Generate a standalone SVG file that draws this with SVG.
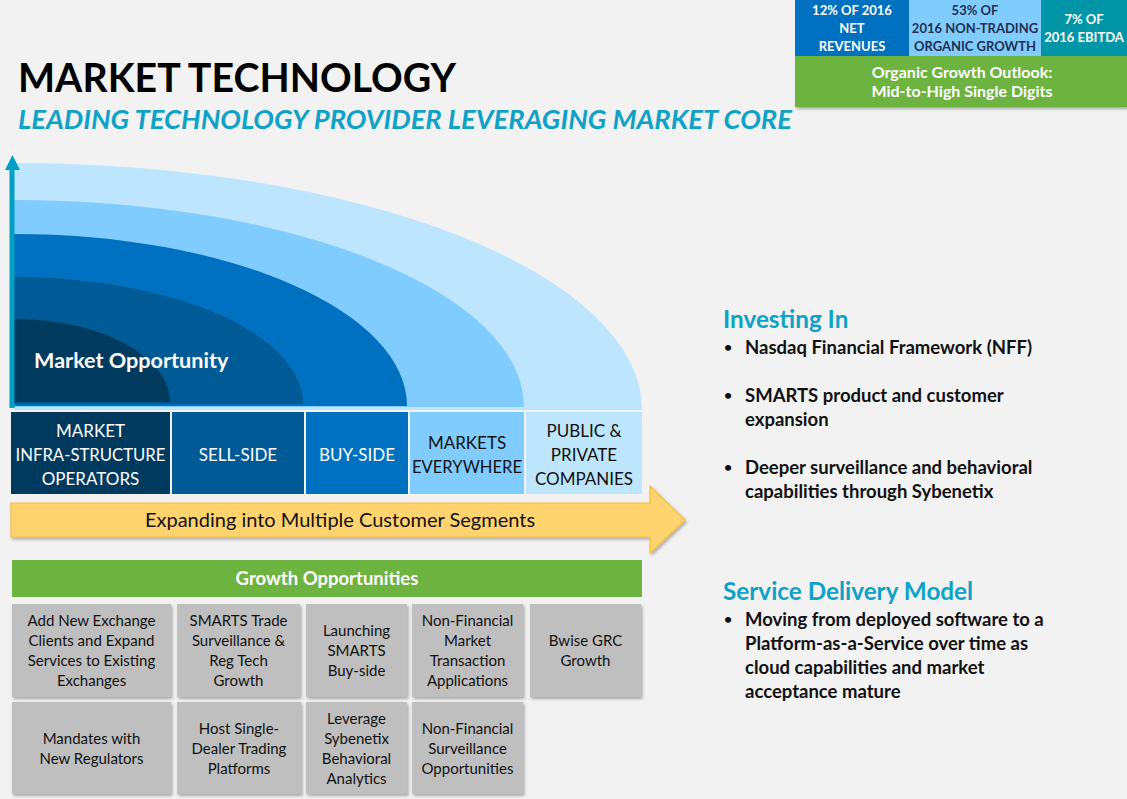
<svg xmlns="http://www.w3.org/2000/svg" width="1127" height="799" viewBox="0 0 1127 799">
<defs>
<filter id="sh" x="-10%" y="-10%" width="125%" height="130%">
<feDropShadow dx="1.5" dy="2" stdDeviation="1.5" flood-color="#000" flood-opacity="0.3"/>
</filter>
<style>
text{font-family:Lato,"Open Sans","Liberation Sans",sans-serif;}
.seg{font-size:17px;text-anchor:middle;}
.w{fill:#ffffff;}
.d{fill:#111111;}
.g{font-size:15px;fill:#111111;text-anchor:middle;}
.gbox{fill:#BFBFBF;filter:url(#sh);}
.tr{font-size:13px;font-weight:bold;text-anchor:middle;}
.tg{font-size:16px;font-weight:bold;text-anchor:middle;fill:#ffffff;}
.bul{font-size:18.5px;font-weight:bold;fill:#111111;}
.dot{font-size:14px;font-weight:bold;fill:#111111;}
.hd{font-size:24.3px;font-weight:bold;fill:#0EA2C8;}
</style>
</defs>
<rect width="1127" height="799" fill="#F2F2F2"/>

<g id="title">
<text x="18" y="92" font-size="40" font-weight="bold" fill="#000" textLength="438" lengthAdjust="spacingAndGlyphs">MARKET TECHNOLOGY</text>
<text x="18" y="129" font-size="26" font-weight="bold" font-style="italic" fill="#0EA2C8" textLength="774" lengthAdjust="spacingAndGlyphs">LEADING TECHNOLOGY PROVIDER LEVERAGING MARKET CORE</text>
</g>

<g id="stats">
<rect x="795" y="0" width="114" height="56" fill="#0070C0"/>
<rect x="909" y="0" width="132" height="56" fill="#80CCFF"/>
<rect x="1041" y="0" width="86" height="56" fill="#0096A8"/>
<text class="tr w" x="852" y="15">12% OF 2016</text>
<text class="tr w" x="852" y="33">NET</text>
<text class="tr w" x="852" y="51">REVENUES</text>
<text class="tr" fill="#1F3050" x="975" y="15">53% OF</text>
<text class="tr" fill="#1F3050" x="975" y="33">2016 NON-TRADING</text>
<text class="tr" fill="#1F3050" x="975" y="51">ORGANIC GROWTH</text>
<text class="tr w" x="1084" y="24">7% OF</text>
<text class="tr w" x="1084" y="42">2016 EBITDA</text>
<rect x="795" y="56" width="332" height="51" fill="#6DB33F" filter="url(#sh)"/>
<text class="tg" x="962" y="78">Organic Growth Outlook:</text>
<text class="tg" x="962" y="97">Mid-to-High Single Digits</text>
</g>

<g id="market-opportunity">
<path d="M14,410 L14,163 A628,247 0 0 1 642,410 Z" fill="#BDE5FE"/>
<path d="M14,407 L14,200 A510,207 0 0 1 524,407 Z" fill="#80CCFF"/>
<path d="M14,406 L14,234 A393,172 0 0 1 407,406 Z" fill="#0070C0"/>
<path d="M14,404 L14,277 A289,127 0 0 1 303,404 Z" fill="#005A96"/>
<path d="M14,402 L14,319 A156,83 0 0 1 170,402 Z" fill="#003A5E"/>
<text x="34" y="368" font-size="21.6" font-weight="bold" fill="#fff">Market Opportunity</text>
</g>

<g id="axis">
<rect x="9.5" y="168" width="5" height="240" fill="#00A0C6"/>
<polygon points="5,170 20,170 12.5,155" fill="#00A0C6"/>
</g>

<g id="segments">
<rect x="11" y="412" width="159" height="82" fill="#003A5E"/>
<rect x="172" y="412" width="132" height="82" fill="#005A96"/>
<rect x="306" y="412" width="102" height="82" fill="#0070C0"/>
<rect x="410" y="412" width="114" height="82" fill="#80CCFF"/>
<rect x="526" y="412" width="116" height="82" fill="#BDE5FE"/>
<text class="seg w" x="90.5" y="437">MARKET</text>
<text class="seg w" x="90.5" y="461" textLength="150" lengthAdjust="spacingAndGlyphs">INFRA-STRUCTURE</text>
<text class="seg w" x="90.5" y="485">OPERATORS</text>
<text class="seg w" x="238" y="461">SELL-SIDE</text>
<text class="seg w" x="357" y="461">BUY-SIDE</text>
<text class="seg d" x="467" y="449">MARKETS</text>
<text class="seg d" x="467" y="473" textLength="110" lengthAdjust="spacingAndGlyphs">EVERYWHERE</text>
<text class="seg d" x="584" y="437">PUBLIC &amp;</text>
<text class="seg d" x="584" y="461">PRIVATE</text>
<text class="seg d" x="584" y="485">COMPANIES</text>
</g>

<g id="expanding-arrow">
<polygon points="11,503 650,503 650,486 685,520 650,553 650,537 11,537" fill="#FFD46E" stroke="#F6BE3A" stroke-width="1.2" filter="url(#sh)"/>
<text x="340" y="527" font-size="20" fill="#111" text-anchor="middle">Expanding into Multiple Customer Segments</text>
</g>

<g id="growth-header">
<rect x="12" y="560" width="630" height="37" fill="#6DB33F"/>
<text x="327" y="585" font-size="18.5" font-weight="bold" fill="#fff" text-anchor="middle">Growth Opportunities</text>
</g>

<g id="g1"><rect class="gbox" x="12" y="604" width="159" height="93"/>
<text class="g" x="91.5" y="626">Add New Exchange</text><text class="g" x="91.5" y="646">Clients and Expand</text><text class="g" x="91.5" y="666">Services to Existing</text><text class="g" x="91.5" y="686">Exchanges</text></g>
<g id="g2"><rect class="gbox" x="177" y="604" width="123" height="93"/>
<text class="g" x="238.5" y="626">SMARTS Trade</text><text class="g" x="238.5" y="646">Surveillance &amp;</text><text class="g" x="238.5" y="666">Reg Tech</text><text class="g" x="238.5" y="686">Growth</text></g>
<g id="g3"><rect class="gbox" x="306" y="604" width="101" height="93"/>
<text class="g" x="356.5" y="636">Launching</text><text class="g" x="356.5" y="656">SMARTS</text><text class="g" x="356.5" y="676">Buy-side</text></g>
<g id="g4"><rect class="gbox" x="412" y="604" width="111" height="93"/>
<text class="g" x="467.5" y="626">Non-Financial</text><text class="g" x="467.5" y="646">Market</text><text class="g" x="467.5" y="666">Transaction</text><text class="g" x="467.5" y="686">Applications</text></g>
<g id="g5"><rect class="gbox" x="530" y="604" width="111" height="93"/>
<text class="g" x="585.5" y="646">Bwise GRC</text><text class="g" x="585.5" y="666">Growth</text></g>
<g id="g6"><rect class="gbox" x="12" y="702" width="159" height="92"/>
<text class="g" x="91.5" y="744">Mandates with</text><text class="g" x="91.5" y="764">New Regulators</text></g>
<g id="g7"><rect class="gbox" x="177" y="702" width="124" height="92"/>
<text class="g" x="239" y="734">Host Single-</text><text class="g" x="239" y="754">Dealer Trading</text><text class="g" x="239" y="774">Platforms</text></g>
<g id="g8"><rect class="gbox" x="306" y="702" width="101" height="92"/>
<text class="g" x="356.5" y="724">Leverage</text><text class="g" x="356.5" y="744">Sybenetix</text><text class="g" x="356.5" y="764">Behavioral</text><text class="g" x="356.5" y="784">Analytics</text></g>
<g id="g9"><rect class="gbox" x="412" y="702" width="111" height="92"/>
<text class="g" x="467.5" y="734">Non-Financial</text><text class="g" x="467.5" y="754">Surveillance</text><text class="g" x="467.5" y="774">Opportunities</text></g>

<g id="investing">
<text class="hd" x="723" y="328">Investing In</text>
<text class="dot" x="724" y="352">•</text>
<text class="bul" x="745" y="354">Nasdaq Financial Framework (NFF)</text>
<text class="dot" x="724" y="400">•</text>
<text class="bul" x="745" y="402">SMARTS product and customer</text>
<text class="bul" x="745" y="426">expansion</text>
<text class="dot" x="724" y="472">•</text>
<text class="bul" x="745" y="474">Deeper surveillance and behavioral</text>
<text class="bul" x="745" y="498">capabilities through Sybenetix</text>
</g>

<g id="service">
<text class="hd" x="723" y="600">Service Delivery Model</text>
<text class="dot" x="724" y="624">•</text>
<text class="bul" x="745" y="626">Moving from deployed software to a</text>
<text class="bul" x="745" y="650">Platform-as-a-Service over time as</text>
<text class="bul" x="745" y="674">cloud capabilities and market</text>
<text class="bul" x="745" y="698">acceptance mature</text>
</g>
</svg>
